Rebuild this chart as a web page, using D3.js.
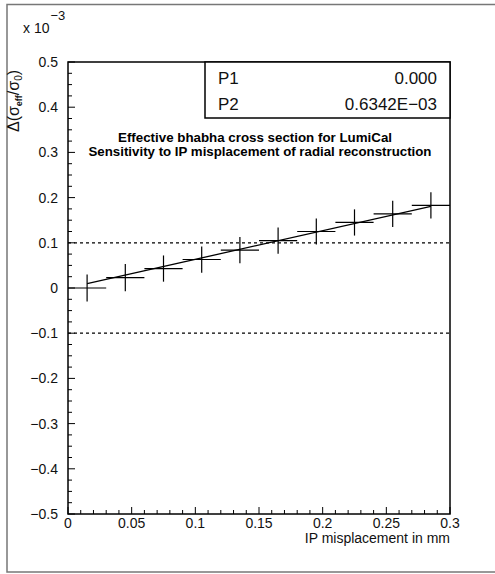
<!DOCTYPE html>
<html>
<head>
<meta charset="utf-8">
<script src="https://cdn.jsdelivr.net/npm/d3@7"></script>
<style>
  html, body { margin: 0; padding: 0; overflow: hidden; background: #fff; }
  svg { display: block; }
  text { font-family: "Liberation Sans", Arial, sans-serif; }
</style>
</head>
<body>
<div id="chart"></div>
<script>
// bin centres (mm), measured values and errors (units of 1e-3)
const binCenters = [0.015, 0.045, 0.075, 0.105, 0.135, 0.165, 0.195, 0.225, 0.255, 0.285];
const binHalfWidth = 0.015;
const values = [0.000, 0.023, 0.043, 0.063, 0.084, 0.105, 0.125, 0.145, 0.164, 0.183];
const errors = [0.030, 0.030, 0.029, 0.029, 0.029, 0.029, 0.029, 0.029, 0.029, 0.029];

// fit parameters (P1 + P2*x), P2 shown in 1e-3 units on the plot
const fitParams = [0.0, 0.6342];
const fitLabels = ["P1", "P2"];
const fitTexts = ["0.000", "0.6342E\u221203"];

const xTicks = [0, 0.05, 0.1, 0.15, 0.2, 0.25, 0.3];
const xTickLabels = ["0", "0.05", "0.1", "0.15", "0.2", "0.25", "0.3"];
const yTicks = [-0.5, -0.4, -0.3, -0.2, -0.1, 0, 0.1, 0.2, 0.3, 0.4, 0.5];
const yTickLabels = ["\u22120.5", "\u22120.4", "\u22120.3", "\u22120.2", "\u22120.1", "0",
    "0.1", "0.2", "0.3", "0.4", "0.5"];
const refLines = [0.1, -0.1];
const titleLines = [
    "Effective bhabha cross section for LumiCal",
    "Sensitivity to IP misplacement of radial reconstruction"
];

const width = 495;
const height = 574;
const plot = { left: 68, right: 450, top: 62, bottom: 514 };

const svg = d3.select("#chart").append("svg")
    .attr("width", width)
    .attr("height", height);

// outer frame: top, left, bottom only (right side is off the picture)
svg.append("path")
    .attr("d", `M${width},4.5 H7 V572 H${width}`)
    .attr("fill", "none")
    .attr("stroke", "#777")
    .attr("stroke-width", 1.5);

const x = d3.scaleLinear().domain([0, 0.3]).range([plot.left, plot.right]);
const y = d3.scaleLinear().domain([-0.5, 0.5]).range([plot.bottom, plot.top]);

// x axis: inward ticks, minor every 0.01
const gx = svg.append("g").attr("transform", `translate(0,${plot.bottom})`);
gx.selectAll("line")
    .data(x.ticks(30))
    .enter().append("line")
    .attr("x1", d => x(d)).attr("x2", d => x(d))
    .attr("y1", 0).attr("y2", (d, i) => i % 5 === 0 ? -7 : -4)
    .attr("stroke", "#000").attr("stroke-width", 1);
gx.selectAll("text")
    .data(xTicks)
    .enter().append("text")
    .attr("x", d => x(d))
    .attr("y", 14)
    .attr("text-anchor", "middle")
    .attr("font-size", 14)
    .attr("fill", "#111")
    .text((d, i) => xTickLabels[i]);

// y axis: inward ticks, minor every 0.025
const gy = svg.append("g").attr("transform", `translate(${plot.left},0)`);
gy.selectAll("line")
    .data(d3.range(41))
    .enter().append("line")
    .attr("y1", i => y(-0.5 + i * 0.025)).attr("y2", i => y(-0.5 + i * 0.025))
    .attr("x1", 0).attr("x2", i => i % 4 === 0 ? 7 : 4)
    .attr("stroke", "#000").attr("stroke-width", 1);
gy.selectAll("text")
    .data(yTicks)
    .enter().append("text")
    .attr("x", -10)
    .attr("y", d => y(d) + 5)
    .attr("text-anchor", "end")
    .attr("font-size", 14)
    .attr("fill", "#111")
    .text((d, i) => yTickLabels[i]);

// exponent label
const expo = svg.append("text").attr("x", 23).attr("y", 33).attr("font-size", 14).attr("fill", "#111");
expo.append("tspan").text("x 10");
expo.append("tspan").attr("dx", 1).attr("dy", -13).attr("font-size", 13).text("\u22123");

// x axis title
svg.append("text")
    .attr("x", plot.right).attr("y", 543)
    .attr("text-anchor", "end")
    .attr("font-size", 14)
    .attr("fill", "#111")
    .text("IP misplacement in mm");

// y axis title
const yt = svg.append("text")
    .attr("transform", "translate(19,101) rotate(-90)")
    .attr("text-anchor", "middle")
    .attr("font-size", 16)
    .attr("fill", "#111");
yt.append("tspan").text("\u0394(\u03c3");
yt.append("tspan").attr("dy", 3).attr("font-size", 9).attr("font-weight", "bold").text("eff");
yt.append("tspan").attr("dy", -3).text("/\u03c3");
yt.append("tspan").attr("dy", 3).attr("font-size", 10).text("0");
yt.append("tspan").attr("dy", -3).text(")");

// dashed reference lines
svg.selectAll("line.ref")
    .data(refLines)
    .enter().append("line")
    .attr("class", "ref")
    .attr("x1", plot.left).attr("x2", plot.right)
    .attr("y1", d => y(d)).attr("y2", d => y(d))
    .attr("stroke", "#000")
    .attr("stroke-width", 1.2)
    .attr("stroke-dasharray", "3,3");

// data points: horizontal bin width and vertical error
const pts = binCenters.map((c, i) => ({ x: c, v: values[i], e: errors[i] }));
svg.selectAll("line.hbar")
    .data(pts)
    .enter().append("line")
    .attr("class", "hbar")
    .attr("x1", d => x(d.x - binHalfWidth)).attr("x2", d => x(d.x + binHalfWidth))
    .attr("y1", d => y(d.v)).attr("y2", d => y(d.v))
    .attr("stroke", "#000").attr("stroke-width", 1.2);
svg.selectAll("line.vbar")
    .data(pts)
    .enter().append("line")
    .attr("class", "vbar")
    .attr("x1", d => x(d.x)).attr("x2", d => x(d.x))
    .attr("y1", d => y(d.v - d.e)).attr("y2", d => y(d.v + d.e))
    .attr("stroke", "#000").attr("stroke-width", 1.2);

// fit line
const fitX = [binCenters[0], binCenters[binCenters.length - 1]];
svg.append("path")
    .datum(fitX)
    .attr("fill", "none")
    .attr("stroke", "#000")
    .attr("stroke-width", 1.3)
    .attr("d", d3.line().x(d => x(d)).y(d => y(fitParams[0] + fitParams[1] * d)));

// plot frame
svg.append("rect")
    .attr("x", plot.left).attr("y", plot.top)
    .attr("width", plot.right - plot.left).attr("height", plot.bottom - plot.top)
    .attr("fill", "none")
    .attr("stroke", "#000")
    .attr("stroke-width", 1.5);

// fit box
const box = svg.append("g");
box.append("rect")
    .attr("x", 205).attr("y", plot.top)
    .attr("width", plot.right - 205).attr("height", 56)
    .attr("fill", "#fff")
    .attr("stroke", "#000")
    .attr("stroke-width", 1.5);
box.selectAll("text.lab")
    .data(fitLabels)
    .enter().append("text")
    .attr("class", "lab")
    .attr("x", 218).attr("y", (d, i) => 84 + i * 26)
    .attr("font-size", 17)
    .attr("fill", "#111")
    .text(d => d);
box.selectAll("text.val")
    .data(fitTexts)
    .enter().append("text")
    .attr("class", "val")
    .attr("x", 437).attr("y", (d, i) => 84 + i * 26)
    .attr("text-anchor", "end")
    .attr("font-size", 17)
    .attr("fill", "#111")
    .text(d => d);

// title
svg.selectAll("text.title")
    .data(titleLines)
    .enter().append("text")
    .attr("class", "title")
    .attr("x", (d, i) => i === 0 ? 255 : 260)
    .attr("y", (d, i) => 142 + i * 14)
    .attr("text-anchor", "middle")
    .attr("font-size", 12)
    .attr("font-weight", "bold")
    .attr("textLength", (d, i) => i === 0 ? 274 : 343)
    .attr("lengthAdjust", "spacingAndGlyphs")
    .text(d => d);
</script>
</body>
</html>
